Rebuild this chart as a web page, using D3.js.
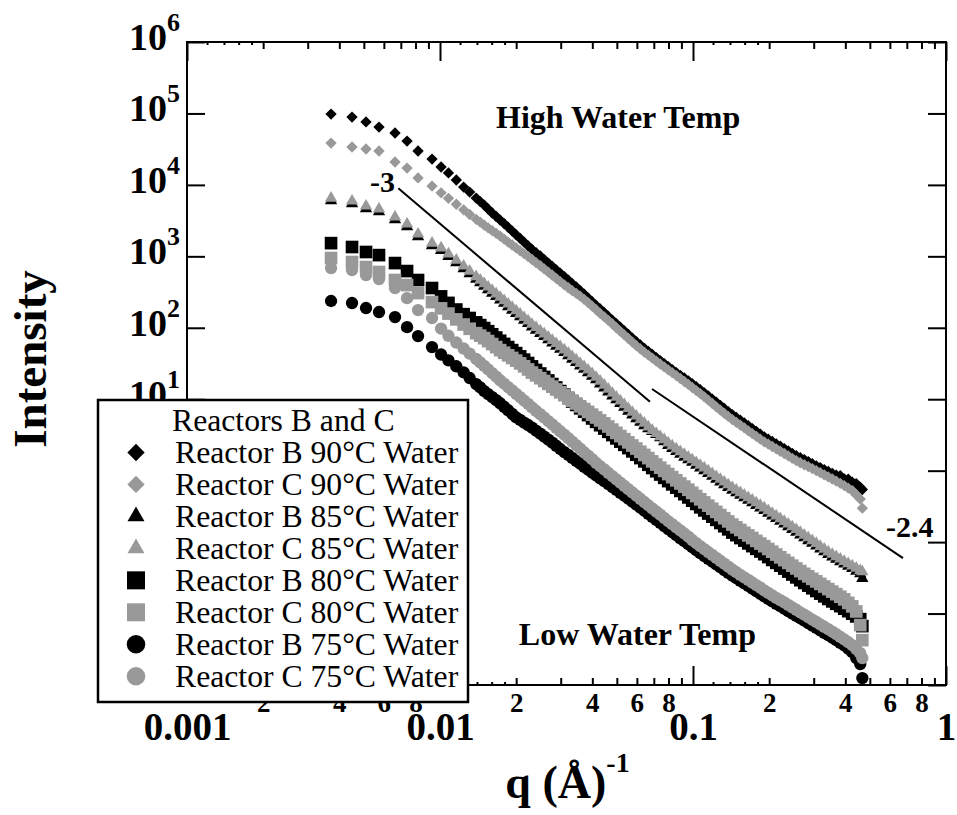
<!DOCTYPE html>
<html>
<head>
<meta charset="utf-8">
<script src="https://cdn.jsdelivr.net/npm/d3@7"></script>
<style>
  body { margin: 0; background: #fff; }
  svg { display: block; font-family: "Liberation Serif", "Times New Roman", serif; }
  .tick line { stroke: #000; stroke-width: 2; }
  .tick text { font-family: "Liberation Serif", "Times New Roman", serif; font-weight: bold; fill: #000; }
  .minorAxis text { font-size: 27px; }
  .majorAxis text { font-size: 39px; }
</style>
</head>
<body>
<div id="chart"></div>
<script>
// q grid shared by all eight runs (1/Angstrom)
var q = [0.00371, 0.00449, 0.00510, 0.00574, 0.00664, 0.00741, 0.00819, 0.00930, 0.0101, 0.0108, 0.0116, 0.0124, 0.0131,
    0.0139, 0.01442, 0.01495, 0.01550, 0.01608, 0.01668, 0.01729, 0.01793, 0.0186, 0.01929, 0.0200, 0.02074, 0.0215, 0.02230, 0.0231, 0.02396, 0.0249, 0.02582, 0.0268, 0.02779,
    0.0288, 0.02987, 0.0310, 0.03215, 0.0333, 0.03454, 0.0358, 0.03713, 0.0385, 0.03993, 0.0414, 0.04294, 0.0446, 0.04625, 0.0480, 0.04978, 0.0516, 0.05351, 0.0555, 0.05756,
    0.0597, 0.06191, 0.0642, 0.06658, 0.0690, 0.07156, 0.0742, 0.07695, 0.0798, 0.08276, 0.0859, 0.08909, 0.0924, 0.09583, 0.0993, 0.1030, 0.1068, 0.1108, 0.1149, 0.1192,
    0.1236, 0.1282, 0.1329, 0.1378, 0.1430, 0.1483, 0.1538, 0.1595, 0.1654, 0.1715, 0.1779, 0.1845, 0.1913, 0.1984, 0.2057, 0.2133, 0.2213, 0.2295, 0.2380, 0.2468,
    0.2560, 0.2655, 0.2753, 0.2855, 0.2961, 0.3071, 0.3184, 0.3302, 0.3425, 0.3552, 0.3683, 0.3820, 0.3961, 0.4108, 0.4260, 0.4418,
    0.4582, 0.4670];

// intensities
var b90 = [9.8e4, 8.9e4, 7.6e4, 6.45e4, 5.32e4, 4.11e4, 2.98e4, 2.30e4, 1.78e4, 1.47e4, 1.17e4, 9330, 7940,
    6540, 5840, 5220, 4590, 4040, 3610, 3220, 2870, 2550, 2260, 2000, 1780, 1580, 1405, 1250, 1124, 1010, 902, 805, 722,
    647, 580, 520, 465, 416, 372, 332, 295, 262, 232, 206, 183, 163, 144, 128, 114, 102, 90.6, 80.5, 71.7,
    63.9, 57.4, 51.6, 46.7, 42.3, 38.3, 34.7, 31.5, 28.6, 26.0, 23.6, 21.6, 19.8, 18.1, 16.5, 15.0, 13.6, 12.3, 11.1, 10.05,
    9.10, 8.21, 7.41, 6.72, 6.10, 5.57, 5.09, 4.65, 4.25, 3.88, 3.55, 3.25, 2.98, 2.76, 2.56, 2.37, 2.20, 2.04, 1.89, 1.75,
    1.62, 1.52, 1.43, 1.34, 1.25, 1.17, 1.10, 1.035, 0.973, 0.917, 0.865, 0.85, 0.769, 0.76, 0.690, 0.66,
    0.585, 0.544];
var c90 = [3.85e4, 3.39e4, 3.18e4, 2.98e4, 2.09e4, 1.72e4, 1.25e4, 9630, 7740, 6480, 5360, 4480, 3850,
    3300, 3010, 2740, 2500, 2290, 2100, 1920, 1740, 1580, 1440, 1310, 1195, 1090, 992, 903, 816, 738, 666, 601, 543,
    490, 442, 399, 363, 331, 303, 277, 250, 225, 201, 179, 159, 142, 127, 113, 100, 89.3, 79.5, 70.8, 63.1,
    56.2, 50.6, 45.6, 41.5, 37.7, 34.2, 31.1, 28.3, 25.8, 23.5, 21.4, 19.5, 17.7, 16.1, 14.6, 13.2, 12.0, 10.8, 9.70, 8.71,
    7.83, 7.05, 6.34, 5.74, 5.19, 4.75, 4.34, 3.96, 3.61, 3.30, 3.02, 2.76, 2.53, 2.35, 2.18, 2.02, 1.87, 1.74, 1.61, 1.49,
    1.38, 1.29, 1.21, 1.14, 1.07, 1.00, 0.937, 0.875, 0.818, 0.764, 0.713, 0.664, 0.619, 0.570, 0.525, 0.458,
    0.400, 0.299];
var b85 = [6020, 5460, 4660, 4220, 3270, 2600, 1890, 1410, 1210, 994, 814, 673, 571,
    477, 427, 382, 342, 306, 274, 246, 221, 198, 177, 159, 143, 128, 115, 103, 92.7, 83.5, 75.4, 68.0, 61.4,
    55.4, 50.0, 45.2, 40.6, 36.4, 32.7, 29.3, 26.3, 23.6, 21.0, 18.7, 16.4, 14.4, 12.6, 11.1, 9.84, 8.72, 7.71, 6.82, 6.04,
    5.35, 4.77, 4.25, 3.88, 3.55, 3.21, 2.90, 2.55, 2.25, 2.05, 1.86, 1.70, 1.55, 1.42, 1.31, 1.19, 1.09, 0.998, 0.914, 0.835,
    0.762, 0.697, 0.638, 0.584, 0.535, 0.493, 0.454, 0.418, 0.385, 0.355, 0.327, 0.301, 0.277, 0.254, 0.233, 0.214, 0.196, 0.180, 0.165, 0.151,
    0.138, 0.126, 0.115, 0.105, 0.0966, 0.0881, 0.0803, 0.0735, 0.0673, 0.0622, 0.0575, 0.0533, 0.0495, 0.0460, 0.0427, 0.0392,
    0.036, 0.031];
var c85 = [6540, 5940, 5060, 4590, 3550, 2830, 2050, 1530, 1310, 1080, 885, 731, 621,
    518, 464, 415, 372, 333, 298, 267, 240, 215, 193, 173, 155, 139, 125, 112, 101, 90.8, 81.9, 73.9, 66.7,
    60.2, 54.4, 49.1, 44.1, 39.6, 35.5, 31.8, 28.5, 25.6, 22.8, 20.3, 17.9, 15.7, 13.8, 12.1, 10.7, 9.48, 8.38, 7.41, 6.57,
    5.82, 5.19, 4.62, 4.11, 3.66, 3.31, 2.99, 2.71, 2.45, 2.22, 2.02, 1.85, 1.69, 1.55, 1.42, 1.30, 1.19, 1.09, 0.993, 0.907,
    0.828, 0.758, 0.693, 0.635, 0.581, 0.535, 0.493, 0.455, 0.419, 0.386, 0.355, 0.327, 0.301, 0.276, 0.253, 0.232, 0.213, 0.195, 0.179, 0.164,
    0.150, 0.137, 0.125, 0.115, 0.105, 0.0957, 0.0873, 0.0799, 0.0731, 0.0676, 0.0625, 0.0580, 0.0538, 0.0500, 0.0464, 0.0431,
    0.0400, 0.0384];
var b80 = [1530, 1350, 1150, 1040, 805, 622, 466, 360, 275, 223, 180, 155, 137,
    119, 109, 99.1, 89.6, 81.1, 73.0, 65.8, 59.4, 53.7, 48.7, 44.2, 39.8, 35.8, 32.1, 28.8, 25.7, 22.9, 20.5, 18.3, 16.3,
    14.6, 13.0, 11.6, 10.4, 9.29, 8.32, 7.46, 6.69, 6.00, 5.38, 4.82, 4.33, 3.89, 3.50, 3.15, 2.83, 2.55, 2.30, 2.07, 1.86,
    1.67, 1.50, 1.35, 1.21, 1.09, 0.981, 0.883, 0.794, 0.714, 0.643, 0.579, 0.521, 0.469, 0.422, 0.380, 0.342, 0.307, 0.278, 0.251, 0.227,
    0.205, 0.185, 0.167, 0.151, 0.136, 0.125, 0.114, 0.105, 0.0959, 0.0879, 0.0805, 0.0739, 0.0678, 0.0618, 0.0563, 0.0513, 0.0468, 0.0426, 0.0387, 0.0352,
    0.0321, 0.0293, 0.0268, 0.0246, 0.0226, 0.0207, 0.0190, 0.0174, 0.0160, 0.0148, 0.0137, 0.0127, 0.0117, 0.0108, 0.00997, 0.00912,
    0.00835, 0.00667];
var c80 = [946, 832, 708, 603, 466, 396, 306, 229, 187, 158, 131, 111, 96.8,
    84.1, 77.6, 71.6, 65.1, 59.2, 53.6, 48.6, 44.7, 41.1, 37.8, 34.7, 31.7, 28.9, 26.1, 23.6, 21.6, 19.7, 18.0, 16.4, 15.0,
    13.7, 12.5, 11.4, 10.4, 9.55, 8.72, 7.96, 7.28, 6.65, 6.08, 5.55, 5.05, 4.59, 4.15, 3.75, 3.38, 3.05, 2.76, 2.49, 2.25,
    2.04, 1.84, 1.66, 1.50, 1.35, 1.22, 1.10, 0.993, 0.897, 0.811, 0.733, 0.662, 0.598, 0.541, 0.489, 0.441, 0.397, 0.359, 0.324, 0.293,
    0.265, 0.239, 0.216, 0.195, 0.176, 0.161, 0.148, 0.135, 0.124, 0.114, 0.104, 0.0955, 0.0877, 0.0802, 0.0734, 0.0670, 0.0612, 0.0560, 0.0512, 0.0468,
    0.0428, 0.0393, 0.0360, 0.0332, 0.0306, 0.0282, 0.0260, 0.0239, 0.0220, 0.0203, 0.0187, 0.0172, 0.0158, 0.0141, 0.0126, 0.0107,
    0.00689, 0.00424];
var b75 = [237, 222, 189, 166, 141, 102, 76.5, 53.7, 42.2, 35.0, 28.9, 23.8, 19.8,
    16.3, 14.6, 13.0, 11.8, 10.7, 9.69, 8.77, 7.84, 7.00, 6.24, 5.57, 5.12, 4.71, 4.35, 4.01, 3.64, 3.30, 3.00, 2.72, 2.46,
    2.23, 2.01, 1.82, 1.66, 1.51, 1.37, 1.25, 1.13, 1.03, 0.941, 0.859, 0.783, 0.713, 0.649, 0.590, 0.538, 0.490, 0.446, 0.406, 0.369,
    0.336, 0.304, 0.275, 0.249, 0.226, 0.205, 0.186, 0.168, 0.152, 0.138, 0.125, 0.113, 0.103, 0.0935, 0.0849, 0.0771, 0.0700, 0.0639, 0.0583, 0.0533,
    0.0487, 0.0445, 0.0406, 0.0372, 0.0340, 0.0312, 0.0287, 0.0265, 0.0244, 0.0224, 0.0206, 0.0189, 0.0174, 0.0160, 0.0148, 0.0137, 0.0127, 0.0117, 0.0108, 0.0100,
    0.00929, 0.00860, 0.00796, 0.00735, 0.00679, 0.00629, 0.00582, 0.00538, 0.00498, 0.00459, 0.00423, 0.00390, 0.00359, 0.00322, 0.00288, 0.00238,
    0.00196, 0.00125];
var c75 = [685, 643, 547, 481, 360, 260, 177, 137, 97.5, 77.3, 62.2, 51.2, 43.5,
    36.6, 32.7, 29.3, 26.1, 23.2, 20.7, 18.4, 16.5, 14.8, 13.3, 11.9, 10.7, 9.57, 8.58, 7.69, 6.89, 6.18, 5.53, 4.94, 4.43,
    3.97, 3.56, 3.19, 2.85, 2.55, 2.28, 2.03, 1.81, 1.62, 1.45, 1.29, 1.16, 1.04, 0.934, 0.839, 0.756, 0.681, 0.613, 0.551, 0.497,
    0.448, 0.404, 0.364, 0.328, 0.296, 0.268, 0.242, 0.218, 0.197, 0.178, 0.161, 0.146, 0.132, 0.119, 0.107, 0.0969, 0.0877, 0.0798, 0.0726, 0.0661,
    0.0601, 0.0548, 0.0499, 0.0454, 0.0413, 0.0379, 0.0348, 0.0321, 0.0296, 0.0272, 0.0250, 0.0230, 0.0211, 0.0195, 0.0180, 0.0166, 0.0154, 0.0143, 0.0132, 0.0122,
    0.0113, 0.0104, 0.00966, 0.00892, 0.00824, 0.00763, 0.00706, 0.00653, 0.00604, 0.00557, 0.00514, 0.00473, 0.00435, 0.00397, 0.00362, 0.00318,
    0.00279, 0.00238];

var seriesNames = ["Reactor B 90°C Water", "Reactor C 90°C Water", "Reactor B 85°C Water", "Reactor C 85°C Water",
    "Reactor B 80°C Water", "Reactor C 80°C Water", "Reactor B 75°C Water", "Reactor C 75°C Water"];
var seriesValues = [b90, c90, b85, c85, b80, c80, b75, c75];
var seriesShapes = ["diamond", "diamond", "triangle", "triangle", "square", "square", "circle", "circle"];
var seriesColors = ["#000", "#999", "#000", "#999", "#000", "#999", "#000", "#999"];

// power-law guide lines
var slope3Line = [[0.00684, 8950], [0.0676, 9.2]];
var slope24Line = [[0.0689, 13.9], [0.676, 0.0598]];

// ticks
var xMajorTicks = [0.001, 0.01, 0.1, 1];
var xDecades = [0.001, 0.01, 0.1];
var xMinorSteps = [2, 3, 4, 5, 6, 7, 8, 9];
var xMinorLabelled = [2, 4, 6, 8];
var xTinySteps = [1.2, 1.4, 1.6, 1.8];
var yTicks = [1e-3, 1e-2, 1e-1, 1e0, 1e1, 1e2, 1e3, 1e4, 1e5, 1e6];

var svgWidth = 957;
var svgHeight = 815;
var margin = { top: 42, right: 11, bottom: 130, left: 187 };
var width = svgWidth - margin.left - margin.right;
var height = svgHeight - margin.top - margin.bottom;

var svg = d3.select("#chart")
    .append("svg")
    .attr("width", svgWidth)
    .attr("height", svgHeight);

var chartGroup = svg.append("g")
    .attr("transform", `translate(${margin.left}, ${margin.top})`);

var xScale = d3.scaleLog().domain([0.001, 1]).range([0, width]);
var yScale = d3.scaleLog().domain([1e-3, 1e6]).range([height, 0]);

var xMinorTicks = [], xTinyTicks = [];
xDecades.forEach(function(dec) {
    xMinorSteps.forEach(function(m) { xMinorTicks.push(m * dec); });
    xTinySteps.forEach(function(m) { xTinyTicks.push(m * dec); });
});

function minorLabel(d) {
    var dec = Math.pow(10, Math.floor(Math.log10(d) + 1e-9));
    var m = Math.round(d / dec);
    return xMinorLabelled.indexOf(m) >= 0 ? String(m) : "";
}

function addAxis(axis, transform, cls) {
    var g = chartGroup.append("g")
        .attr("class", cls)
        .attr("transform", transform)
        .call(axis);
    g.select(".domain").remove();
    return g;
}

// bottom
addAxis(d3.axisBottom(xScale).tickValues(xTinyTicks).tickSize(-3).tickFormat(""), `translate(0, ${height})`, "tinyAxis");
addAxis(d3.axisBottom(xScale).tickValues(xMinorTicks).tickSize(-7).tickPadding(8).tickFormat(minorLabel), `translate(0, ${height})`, "minorAxis");
addAxis(d3.axisBottom(xScale).tickValues(xMajorTicks).tickSize(-19).tickPadding(27).tickFormat(d => String(d)), `translate(0, ${height})`, "majorAxis");
// top
addAxis(d3.axisTop(xScale).tickValues(xTinyTicks).tickSize(-3).tickFormat(""), "translate(0, 0)", "tinyAxis");
addAxis(d3.axisTop(xScale).tickValues(xMinorTicks).tickSize(-7).tickFormat(""), "translate(0, 0)", "minorAxis");
addAxis(d3.axisTop(xScale).tickValues(xMajorTicks).tickSize(-19).tickFormat(""), "translate(0, 0)", "majorAxis");
// left / right
addAxis(d3.axisLeft(yScale).tickValues(yTicks).tickSize(-18).tickFormat(""), "translate(0, 0)", "yAxis");
addAxis(d3.axisRight(yScale).tickValues(yTicks).tickSize(-18).tickFormat(""), `translate(${width}, 0)`, "yAxis");

// y tick labels as 10^n
var yLabels = chartGroup.append("g").attr("font-weight", "bold");
yTicks.forEach(function(v) {
    var t = yLabels.append("text")
        .attr("x", -7)
        .attr("y", yScale(v) + 8)
        .attr("text-anchor", "end");
    t.append("tspan").attr("font-size", 38).text("10");
    t.append("tspan").attr("font-size", 26).attr("dy", -19).text(Math.round(Math.log10(v)));
});

// frame
chartGroup.append("rect")
    .attr("width", width)
    .attr("height", height)
    .attr("fill", "none")
    .attr("stroke", "#000")
    .attr("stroke-width", 2);

// markers
var symbolTypes = { diamond: d3.symbolSquare, triangle: d3.symbolTriangle, square: d3.symbolSquare, circle: d3.symbolCircle };
var plotSizes = { diamond: 64, triangle: 66, square: 160, circle: 120 };
var legendSizes = { diamond: 150, triangle: 125, square: 324, circle: 270 };

function symbolPath(shape, size) {
    return d3.symbol().type(symbolTypes[shape]).size(size)();
}

seriesValues.forEach(function(values, i) {
    var shape = seriesShapes[i];
    var pts = values.map(function(v, j) { return { q: q[j], I: v }; });
    chartGroup.append("g")
        .selectAll("path")
        .data(pts)
        .enter()
        .append("path")
        .attr("d", symbolPath(shape, plotSizes[shape]))
        .attr("transform", d => `translate(${xScale(d.q)}, ${yScale(d.I)})` + (shape === "diamond" ? " rotate(45)" : ""))
        .attr("fill", seriesColors[i]);
});

// guide lines
var line = d3.line().x(d => xScale(d[0])).y(d => yScale(d[1]));
[slope3Line, slope24Line].forEach(function(l) {
    chartGroup.append("path")
        .attr("d", line(l))
        .attr("fill", "none")
        .attr("stroke", "#000")
        .attr("stroke-width", 2);
});

// annotations
function note(txt, qv, iv, size, anchor) {
    chartGroup.append("text")
        .attr("x", xScale(qv))
        .attr("y", yScale(iv))
        .attr("text-anchor", anchor)
        .attr("font-size", size)
        .attr("font-weight", "bold")
        .text(txt);
}
note("High Water Temp", 0.01665, 6.25e4, 32, "start");
note("Low Water Temp", 0.0205, 0.00361, 32, "start");
note("-3", 0.00664, 7940, 30, "end");
note("-2.4", 0.579, 0.1175, 30, "start");

// axis titles
svg.append("text")
    .attr("transform", "translate(46, 359) rotate(-90)")
    .attr("text-anchor", "middle")
    .attr("font-size", 47)
    .attr("font-weight", "bold")
    .text("Intensity");

var xTitle = svg.append("text")
    .attr("x", margin.left + width / 2 + 1)
    .attr("y", 798)
    .attr("text-anchor", "middle")
    .attr("font-weight", "bold");
xTitle.append("tspan").attr("font-size", 46).text("q (Å)");
xTitle.append("tspan").attr("font-size", 28).attr("dy", -26).text("-1");

// legend
var legend = svg.append("g");
legend.append("rect")
    .attr("x", 98)
    .attr("y", 400)
    .attr("width", 370)
    .attr("height", 302)
    .attr("fill", "#fff")
    .attr("stroke", "#000")
    .attr("stroke-width", 2.5);
legend.append("text")
    .attr("x", 172)
    .attr("y", 431)
    .attr("font-size", 31.7)
    .text("Reactors B and C");
seriesNames.forEach(function(name, i) {
    var base = 463 + 31.96 * i;
    var shape = seriesShapes[i];
    legend.append("path")
        .attr("d", symbolPath(shape, legendSizes[shape]))
        .attr("transform", `translate(136, ${base - 10.5})` + (shape === "diamond" ? " rotate(45)" : ""))
        .attr("fill", seriesColors[i]);
    legend.append("text")
        .attr("x", 175)
        .attr("y", base)
        .attr("font-size", 31.7)
        .text(name);
});
</script>
</body>
</html>
